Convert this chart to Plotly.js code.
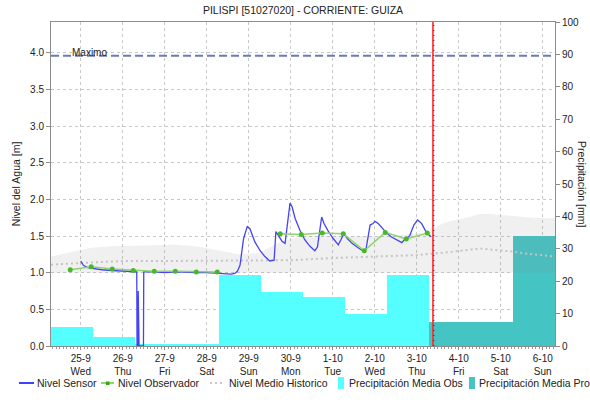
<!DOCTYPE html>
<html>
<head>
<meta charset="utf-8">
<script src="https://cdn.plot.ly/plotly-3.0.1.min.js"></script>
<style>
  html, body { margin: 0; padding: 0; background: #ffffff; }
  #chart { width: 590px; height: 403px; }
</style>
</head>
<body>
<div id="chart"></div>
<script>
// ---------------- DATA ----------------
const chartTitle = "PILISPI [51027020] - CORRIENTE: GUIZA";

// x-axis ticks
const tickDates = ["2024-09-25","2024-09-26","2024-09-27","2024-09-28","2024-09-29","2024-09-30",
                   "2024-10-01","2024-10-02","2024-10-03","2024-10-04","2024-10-05","2024-10-06"];
const tickDays = ["25-9","26-9","27-9","28-9","29-9","30-9","1-10","2-10","3-10","4-10","5-10","6-10"];
const tickWeekdays = ["Wed","Thu","Fri","Sat","Sun","Mon","Tue","Wed","Thu","Fri","Sat","Sun"];
const xRange = ["2024-09-24 07:00","2024-10-06 07:00"];

// Nivel Sensor [m]
const sensorTimes = [
 "2024-09-25 00:00","2024-09-25 01:30","2024-09-25 04:00","2024-09-25 08:00","2024-09-25 12:00",
 "2024-09-25 18:00","2024-09-26 00:00","2024-09-26 06:00","2024-09-26 08:00","2024-09-26 08:10",
 "2024-09-26 08:40","2024-09-26 08:50","2024-09-26 09:20","2024-09-26 11:50","2024-09-26 12:00",
 "2024-09-26 18:00","2024-09-27 00:00","2024-09-27 06:00","2024-09-27 12:00","2024-09-27 18:00",
 "2024-09-28 00:00","2024-09-28 06:00","2024-09-28 10:00","2024-09-28 14:00","2024-09-28 16:00",
 "2024-09-28 17:30","2024-09-28 19:00","2024-09-28 20:00","2024-09-28 21:00","2024-09-28 22:30",
 "2024-09-28 23:10","2024-09-29 00:40","2024-09-29 03:30","2024-09-29 06:30","2024-09-29 09:15",
 "2024-09-29 12:00","2024-09-29 14:30","2024-09-29 15:30","2024-09-29 17:00","2024-09-29 19:00",
 "2024-09-29 20:45","2024-09-29 22:00","2024-09-29 23:35","2024-09-30 00:45","2024-09-30 02:30",
 "2024-09-30 05:15","2024-09-30 08:00","2024-09-30 11:00","2024-09-30 13:45","2024-09-30 15:15",
 "2024-09-30 16:40","2024-09-30 17:40","2024-09-30 19:00","2024-09-30 21:20","2024-10-01 00:10",
 "2024-10-01 03:10","2024-10-01 04:40","2024-10-01 06:25","2024-10-01 08:10","2024-10-01 11:00",
 "2024-10-01 14:30","2024-10-01 17:50","2024-10-01 19:00","2024-10-01 21:20","2024-10-01 23:00",
 "2024-10-02 00:05","2024-10-02 02:00","2024-10-02 04:00","2024-10-02 06:50","2024-10-02 09:20",
 "2024-10-02 11:35","2024-10-02 14:25","2024-10-02 15:30","2024-10-02 17:15","2024-10-02 19:00",
 "2024-10-02 20:05","2024-10-02 22:20","2024-10-03 00:30","2024-10-03 02:50","2024-10-03 05:40",
 "2024-10-03 08:10"];
const sensorLevels = [
 1.16,1.10,1.07,1.05,1.04,
 1.03,1.02,1.01,1.01,0.00,
 0.00,0.75,0.00,0.00,1.01,
 1.01,1.00,1.01,1.00,1.00,
 1.00,0.99,0.98,0.98,0.99,
 1.02,1.10,1.30,1.46,1.58,
 1.63,1.60,1.42,1.30,1.22,
 1.16,1.17,1.56,1.50,1.43,
 1.40,1.62,1.95,1.90,1.74,
 1.58,1.45,1.36,1.30,1.35,
 1.60,1.76,1.67,1.57,1.47,
 1.38,1.45,1.54,1.47,1.40,
 1.34,1.29,1.32,1.65,1.67,
 1.70,1.67,1.61,1.54,1.49,
 1.46,1.42,1.41,1.46,1.48,
 1.51,1.65,1.72,1.67,1.54,
 1.49];

// Nivel Observador [m]  (null = no reading)
const obsTimes = ["2024-09-24 18:00","2024-09-25 06:00","2024-09-25 18:00","2024-09-26 06:00",
 "2024-09-26 18:00","2024-09-27 06:00","2024-09-27 18:00","2024-09-28 06:00","2024-09-29 00:00",
 "2024-09-29 18:00","2024-09-30 06:00","2024-09-30 18:00","2024-10-01 06:00","2024-10-01 18:00",
 "2024-10-02 06:00","2024-10-02 18:00","2024-10-03 06:00"];
const obsLevels = [1.04,1.08,1.05,1.03,1.02,1.02,1.01,1.01,null,
 1.53,1.52,1.54,1.53,1.30,1.55,1.46,1.54];

// Historic range band and mean [m]
const bandTimes = ["2024-09-24 07:00","2024-09-24 18:00","2024-09-25 06:00","2024-09-25 18:00",
 "2024-09-26 12:00","2024-09-27 06:00","2024-09-27 18:00","2024-09-28 06:00","2024-09-28 18:00",
 "2024-09-29 06:00","2024-09-29 18:00","2024-09-30 06:00","2024-09-30 18:00","2024-10-01 06:00",
 "2024-10-01 18:00","2024-10-02 06:00","2024-10-02 18:00","2024-10-03 06:00","2024-10-03 12:00",
 "2024-10-03 18:00","2024-10-04 06:00","2024-10-04 12:00","2024-10-04 18:00","2024-10-05 06:00",
 "2024-10-05 18:00","2024-10-06 07:00"];
const bandHigh = [1.22,1.28,1.34,1.36,1.37,1.38,1.36,1.31,1.25,1.27,1.42,1.50,1.50,1.51,
 1.50,1.50,1.52,1.55,1.64,1.70,1.76,1.80,1.80,1.77,1.75,1.74];
const bandLow = [1.00,1.00,1.00,1.00,1.00,1.00,1.00,1.00,1.00,1.00,1.00,1.00,1.00,1.00,
 1.00,1.00,1.00,1.00,1.00,1.00,1.00,1.00,1.00,1.00,1.00,1.00];

const meanTimes = ["2024-09-24 07:00","2024-09-25 06:00","2024-09-26 00:00","2024-09-27 00:00",
 "2024-09-28 00:00","2024-09-29 00:00","2024-09-30 00:00","2024-10-01 00:00","2024-10-02 00:00",
 "2024-10-03 00:00","2024-10-03 18:00","2024-10-04 12:00","2024-10-05 06:00","2024-10-05 15:00",
 "2024-10-06 07:00"];
const meanLevels = [1.11,1.14,1.16,1.16,1.16,1.16,1.17,1.20,1.22,1.24,1.28,1.33,1.29,1.26,1.22];

// Daily precipitation [mm] (07:00 to 07:00, bar centred at 19:00)
const precipObsTimes = ["2024-09-24 19:00","2024-09-25 19:00","2024-09-26 19:00","2024-09-27 19:00",
 "2024-09-28 19:00","2024-09-29 19:00","2024-09-30 19:00","2024-10-01 19:00","2024-10-02 19:00"];
const precipObs = [6.0,2.9,0.6,0.6,22.0,16.8,15.2,9.8,22.0];
const precipProTimes = ["2024-10-03 19:00","2024-10-04 19:00","2024-10-05 19:00"];
const precipPro = [7.5,7.5,34.0];

const maxLevel = 3.96;
const nowTime = "2024-10-03 09:15";
const nowTimeShadow = "2024-10-03 09:45";

// ---------------- STYLE ----------------
const FONT = "Liberation Sans, Arial, sans-serif";
const DAY = 86400000;
const C_OBS = "#55ffff", C_PRO = "#45c4c4";

const traces = [
  {type:"bar", name:"Precipitación Media Obs", x:precipObsTimes, y:precipObs, yaxis:"y",
   width:precipObs.map(()=>DAY), marker:{color:C_OBS, line:{width:0}}, hoverinfo:"skip"},
  {type:"bar", name:"Precipitación Media Pro", x:precipProTimes, y:precipPro, yaxis:"y",
   width:precipPro.map(()=>DAY), marker:{color:C_PRO, line:{width:0}}, hoverinfo:"skip"},
  {type:"scatter", mode:"lines", x:bandTimes, y:bandLow, yaxis:"y2", line:{width:0},
   showlegend:false, hoverinfo:"skip"},
  {type:"scatter", mode:"lines", x:bandTimes, y:bandHigh, yaxis:"y2", line:{width:0},
   fill:"tonexty", fillcolor:"rgba(128,128,128,0.12)", showlegend:false, hoverinfo:"skip"},
  {type:"scatter", mode:"lines", name:"Nivel Medio Historico", x:meanTimes, y:meanLevels, yaxis:"y2",
   line:{color:"#c4c4c4", width:2, dash:"2px,3px"}},
  {type:"scatter", mode:"lines", name:"Nivel Sensor", x:sensorTimes, y:sensorLevels, yaxis:"y2",
   line:{color:"#4444f4", width:1.3}},
  {type:"scatter", mode:"lines+markers", name:"Nivel Observador", x:obsTimes, y:obsLevels, yaxis:"y2",
   connectgaps:false, line:{color:"#8ed46c", width:1.5}, marker:{color:"#46b82a", size:5}}
];

// plot area in px: left 51, right 555, top 22, bottom 346
const L = 51, W = 504, T = 22, H = 324;
const px = v => (v - L) / W;
const py = v => (T + H - v) / H;

const legendPx = 383;
const legendY = py(legendPx);
const shapes = [
  {type:"line", xref:"x", yref:"y2", x0:xRange[0], x1:xRange[1], y0:maxLevel, y1:maxLevel,
   line:{color:"#6b7bb2", width:2, dash:"8px,4px"}},
  {type:"line", xref:"x", yref:"paper", x0:nowTime, x1:nowTime, y0:0, y1:1,
   line:{color:"#ff2a2a", width:1.6}},
  {type:"line", xref:"x", yref:"paper", x0:nowTimeShadow, x1:nowTimeShadow, y0:0, y1:1,
   line:{color:"#8a0000", width:1, dash:"1px,4px"}},
  // legend symbols
  {type:"line", xref:"paper", yref:"paper", x0:px(19), x1:px(34), y0:legendY, y1:legendY,
   line:{color:"#0000ff", width:1.5}},
  {type:"line", xref:"paper", yref:"paper", x0:px(101), x1:px(114), y0:legendY, y1:legendY,
   line:{color:"#66cc33", width:1.5}},
  {type:"rect", xref:"paper", yref:"paper", x0:px(106), x1:px(109.5), y0:py(legendPx+2), y1:py(legendPx-1.5),
   fillcolor:"#33aa11", line:{width:0}},
  {type:"line", xref:"paper", yref:"paper", x0:px(210), x1:px(225), y0:legendY, y1:legendY,
   line:{color:"#c8c8c8", width:2, dash:"2px,3px"}},
  {type:"rect", xref:"paper", yref:"paper", x0:px(338), x1:px(344), y0:py(legendPx+6), y1:py(legendPx-6),
   fillcolor:C_OBS, line:{width:0}},
  {type:"rect", xref:"paper", yref:"paper", x0:px(469), x1:px(475), y0:py(legendPx+6), y1:py(legendPx-6),
   fillcolor:C_PRO, line:{width:0}}
];

const legendLabels = ["Nivel Sensor","Nivel Observador","Nivel Medio Historico",
                      "Precipitación Media Obs","Precipitación Media Pro"];
const legendTextX = [36, 117, 228, 348, 478];

const annotations = [
  {text:"Maximo", x:"2024-09-24 18:00", y:maxLevel, xref:"x", yref:"y2", xanchor:"left",
   yanchor:"bottom", yshift:-4, showarrow:false, font:{family:FONT, size:10, color:"#222"}},
  {text:"Precipitación [mm]", x:px(582), y:0.5, xref:"paper", yref:"paper", textangle:90,
   showarrow:false, xanchor:"center", yanchor:"middle", font:{family:FONT, size:10.5, color:"#222"}}
].concat(legendLabels.map((t,i)=>({
  text:t, x:px(legendTextX[i]), y:legendY, xref:"paper", yref:"paper", xanchor:"left",
  yanchor:"middle", showarrow:false, borderpad:0, font:{family:FONT, size:10.5, color:"#222"}
})));

const axisLine = "#8c8c8c", gridC = "#c8c8c8";
const layout = {
  width:590, height:403,
  margin:{l:L, r:590-L-W, t:T, b:403-T-H, pad:0},
  paper_bgcolor:"#ffffff", plot_bgcolor:"#ffffff",
  font:{family:FONT, size:10, color:"#222"},
  showlegend:false, barmode:"overlay", bargap:0,
  title:{text:chartTitle, font:{family:FONT, size:10.5, color:"#222"},
         x:0.5, xref:"paper", xanchor:"center", y:1-10/403, yref:"container", yanchor:"middle"},
  xaxis:{type:"date", range:xRange, tickmode:"array", tickvals:tickDates,
         ticktext:tickDays.map((d,i)=>d+"<br>"+tickWeekdays[i]),
         tickfont:{family:FONT, size:10, color:"#222"},
         showgrid:true, gridcolor:gridC, griddash:"dot", gridwidth:1,
         showline:true, linecolor:axisLine, linewidth:1, mirror:true,
         ticks:"outside", ticklen:3, tickcolor:axisLine, zeroline:false,
         minor:{dtick:2*3600000, ticks:"outside", ticklen:2, tickcolor:"#999", showgrid:false}},
  yaxis:{range:[0,100], side:"right", dtick:10, showgrid:false, zeroline:false,
         ticks:"outside", ticklen:4, tickcolor:axisLine, showline:true, linecolor:axisLine,
         tickfont:{family:FONT, size:10, color:"#222"}},
  yaxis2:{overlaying:"y", side:"left", range:[0,4.42], dtick:0.5, tick0:0, tickformat:".1f",
          showgrid:true, gridcolor:gridC, griddash:"dot", zeroline:false,
          ticks:"outside", ticklen:4, tickcolor:axisLine, showline:true, linecolor:axisLine,
          tickfont:{family:FONT, size:10, color:"#222"},
          title:{text:"Nivel del Agua [m]", font:{family:FONT, size:10.5, color:"#222"}, standoff:7}},
  shapes:shapes, annotations:annotations
};

Plotly.newPlot("chart", traces, layout, {staticPlot:true, displayModeBar:false});
</script>
</body>
</html>
